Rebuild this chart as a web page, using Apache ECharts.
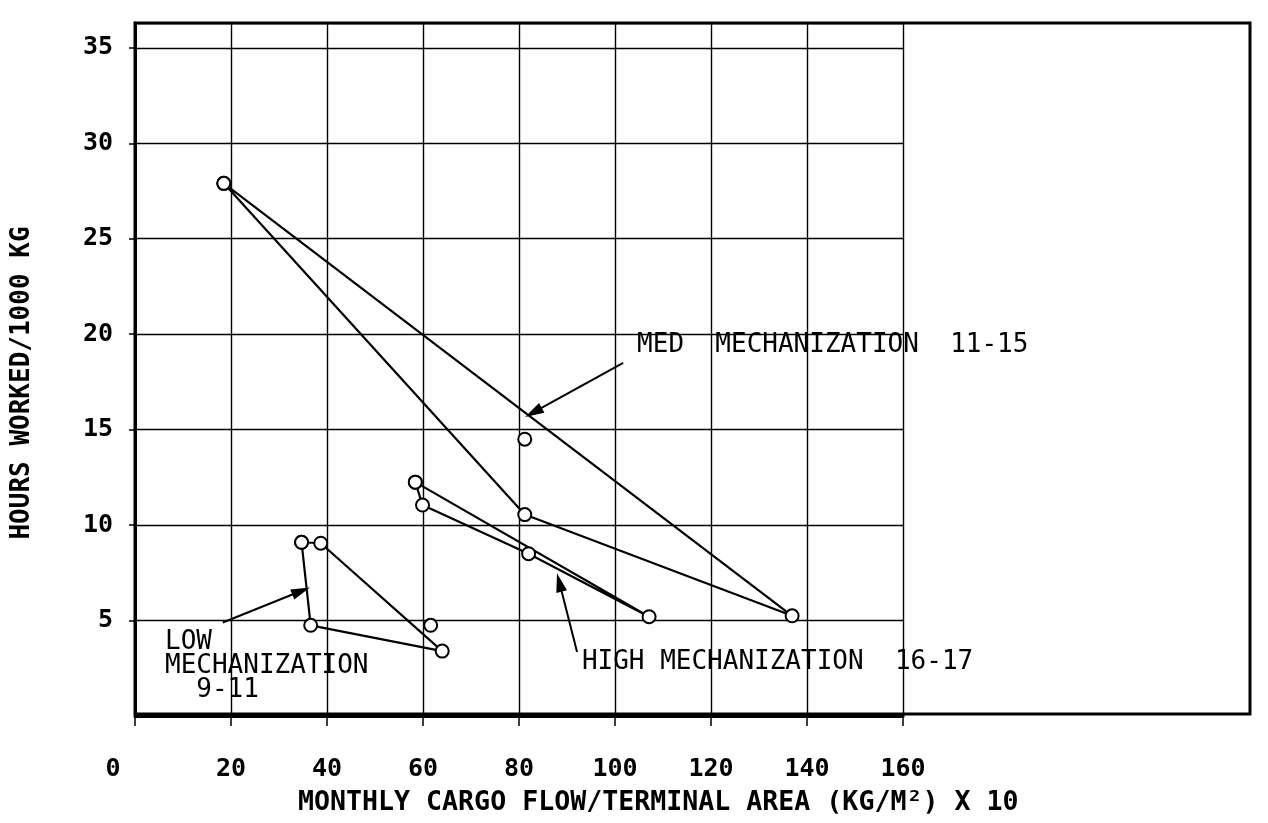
<!DOCTYPE html>
<html>
<head>
<meta charset="utf-8">
<script src="https://cdn.jsdelivr.net/npm/echarts@6/dist/echarts.min.js"></script>
<style>
html,body{margin:0;padding:0;background:#fff;}
#chart{width:1268px;height:823px;}
</style>
</head>
<body>
<div id="chart"></div>
<script>
// ---- data ----
const xTickValues = [0, 20, 40, 60, 80, 100, 120, 140, 160];
const yTickValues = [5, 10, 15, 20, 25, 30, 35];
// closed outlines (first point repeated at the end)
const medLoop  = [[18.5, 27.9], [81.2, 10.55], [136.9, 5.25], [18.5, 27.9]];
const medExtra = [[81.2, 14.5]];
const highLoop = [[58.4, 12.25], [107.1, 5.2], [82.0, 8.5], [59.9, 11.05], [58.4, 12.25]];
const lowLoop  = [[34.7, 9.1], [38.7, 9.05], [64.0, 3.4], [36.6, 4.75], [34.7, 9.1]];
const lowExtra = [[61.6, 4.75]];
// annotation arrows: [tail, head] in data units
const arrowMed  = [[101.7, 18.5], [83.0, 15.9]];
const arrowHigh = [[92.1, 3.35], [88.4, 7.0]];
const arrowLow  = [[18.3, 4.9], [34.6, 6.55]];
// annotation texts and their anchors (data units)
const noteTexts   = ['MED  MECHANIZATION  11-15', 'HIGH MECHANIZATION  16-17', 'LOW\nMECHANIZATION\n  9-11'];
const noteAnchors = [[104.6, 19.4], [93.1, 2.83], [6.25, 4.5]];
const xTitle = 'MONTHLY CARGO FLOW/TERMINAL AREA (KG/M\u00B2) X 10';
const yTitle = 'HOURS WORKED/1000 KG';

const MONO = '"DejaVu Sans Mono", "Liberation Mono", monospace';
const INK = '#000';

const chart = echarts.init(document.getElementById('chart'), null, {renderer: 'canvas'});

const seriesBase = {
  type: 'line',
  xAxisIndex: 0, yAxisIndex: 0,
  symbol: 'emptyCircle',
  symbolSize: 13,
  lineStyle: {color: INK, width: 2.2},
  itemStyle: {color: INK, borderWidth: 2},
  emphasis: {disabled: true},
  silent: true,
  z: 5
};

function arrowPair(a) {
  return [{coord: a[0]}, {coord: a[1], symbolSize: [11, 19]}];
}

const option = {
  animation: false,
  backgroundColor: '#fff',
  grid: [
    {left: 135, top: 23, right: 365, bottom: 107, show: false},
    {left: 135, top: 23, right: 18, bottom: 109, show: true, borderColor: INK, borderWidth: 3, backgroundColor: 'transparent'}
  ],
  xAxis: [
    {
      type: 'value', gridIndex: 0, min: 0, max: 160, interval: 20,
      axisLine: {show: true, onZero: false, lineStyle: {color: INK, width: 3}},
      axisTick: {show: true, inside: false, length: 10, lineStyle: {color: INK, width: 1.5}},
      axisLabel: {
        margin: 41, color: INK, fontFamily: MONO, fontWeight: 'bold', fontSize: 25,
        formatter: v => (xTickValues.indexOf(v) < 0 ? '' : (v === 0 ? '{z|0}' : String(v))),
        rich: {z: {fontFamily: MONO, fontWeight: 'bold', fontSize: 25, color: INK, padding: [0, 44, 0, 0]}}
      },
      splitLine: {show: true, lineStyle: {color: INK, width: 1.4}}
    },
    {type: 'value', gridIndex: 1, min: 0, max: 1, show: false}
  ],
  yAxis: [
    {
      type: 'value', gridIndex: 0, min: 0, max: 36.3, interval: 5,
      axisLine: {show: true, onZero: false, lineStyle: {color: INK, width: 3}},
      axisTick: {show: true, inside: false, length: 6, lineStyle: {color: INK, width: 1.5}},
      axisLabel: {
        margin: 22, color: INK, fontFamily: MONO, fontWeight: 'bold', fontSize: 25,
        showMinLabel: false, showMaxLabel: false,
        formatter: v => (yTickValues.indexOf(v) < 0 ? '' : String(v))
      },
      splitLine: {show: true, lineStyle: {color: INK, width: 1.4}}
    },
    {type: 'value', gridIndex: 1, min: 0, max: 1, show: false}
  ],
  series: [
    Object.assign({}, seriesBase, {
      name: 'MED', data: medLoop,
      markLine: {
        silent: true, animation: false,
        symbol: ['none', 'triangle'],
        symbolSize: 16,
        label: {show: false},
        itemStyle: {color: INK},
        lineStyle: {color: INK, width: 2, type: 'solid'},
        emphasis: {disabled: true},
        data: [arrowPair(arrowMed), arrowPair(arrowHigh), arrowPair(arrowLow)]
      }
    }),
    Object.assign({}, seriesBase, {name: 'MED single', data: medExtra}),
    Object.assign({}, seriesBase, {name: 'HIGH', data: highLoop}),
    Object.assign({}, seriesBase, {name: 'LOW', data: lowLoop}),
    Object.assign({}, seriesBase, {name: 'LOW single', data: lowExtra})
  ]
};

chart.setOption(option);

// annotations placed through the grid's own coordinate conversion
const graphics = [];
noteTexts.forEach((t, i) => {
  const p = chart.convertToPixel({gridIndex: 0}, noteAnchors[i]);
  graphics.push({
    type: 'text', x: p[0], y: p[1], silent: true, z: 10,
    style: {
      text: t, fill: INK,
      font: '26px ' + MONO,
      lineHeight: 24,
      align: 'left',
      verticalAlign: i === 2 ? 'top' : 'middle'
    }
  });
});
// axis titles (layout text)
graphics.push({
  type: 'text', x: 298, y: 803, silent: true,
  style: {text: xTitle, fill: INK, font: 'bold 26.6px ' + MONO, align: 'left', verticalAlign: 'middle'}
});
graphics.push({
  type: 'text', x: 22, y: 383, rotation: Math.PI / 2, silent: true,
  style: {text: yTitle, fill: INK, font: 'bold 26px ' + MONO, align: 'center', verticalAlign: 'middle'}
});
chart.setOption({graphic: graphics});
</script>
</body>
</html>
